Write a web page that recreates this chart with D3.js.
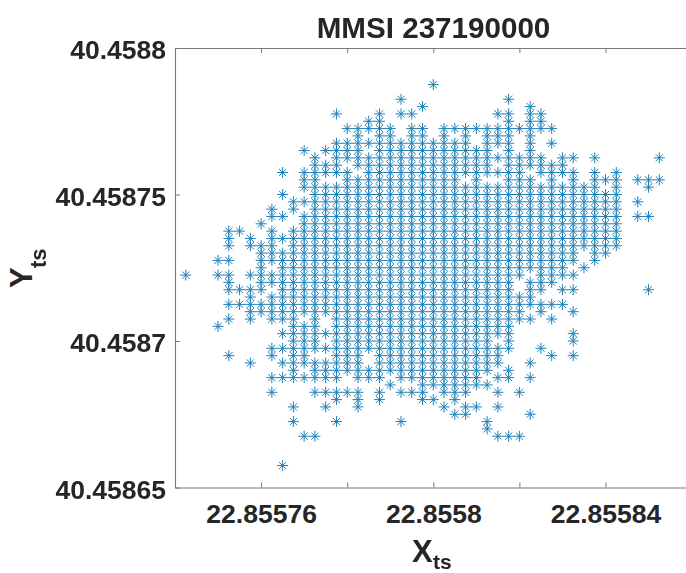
<!DOCTYPE html>
<html>
<head>
<meta charset="utf-8">
<script src="https://cdn.jsdelivr.net/npm/d3@7"></script>
<style>
  body { margin: 0; background: #fff; }
  text { font-family: "Liberation Sans", Arial, sans-serif; font-weight: bold; fill: #262626; }
</style>
</head>
<body>
<div id="chart"></div>
<script>
// Positions are quantised, so the points sit on a grid of longitudes and latitudes
var xGrid = [
  22.8557425, 22.855745, 22.8557475, 22.85575, 22.8557525,
  22.855755, 22.8557575, 22.85576, 22.8557625, 22.855765,
  22.8557675, 22.85577, 22.8557725, 22.855775, 22.8557775,
  22.85578, 22.8557825, 22.855785, 22.8557875, 22.85579,
  22.8557925, 22.855795, 22.8557975, 22.8558, 22.8558025,
  22.855805, 22.8558075, 22.85581, 22.8558125, 22.855815,
  22.8558175, 22.85582, 22.8558225, 22.855825, 22.8558275,
  22.85583, 22.8558325, 22.855835, 22.8558375, 22.85584,
  22.8558425, 22.855845, 22.8558475, 22.85585, 22.8558525
];

var rowY = [
  40.4587875, 40.4587825, 40.45878, 40.4587775, 40.458775,
  40.4587725, 40.45877, 40.4587675, 40.458765, 40.4587625,
  40.45876, 40.4587575, 40.458755, 40.4587525, 40.45875,
  40.4587475, 40.458745, 40.4587425, 40.45874, 40.4587375,
  40.458735, 40.4587325, 40.45873, 40.4587275, 40.458725,
  40.4587225, 40.45872, 40.4587175, 40.458715, 40.4587125,
  40.45871, 40.4587075, 40.458705, 40.4587025, 40.4587,
  40.4586975, 40.458695, 40.4586925, 40.45869, 40.4586875,
  40.458685, 40.4586825, 40.45868, 40.4586775, 40.458675,
  40.4586725, 40.45867, 40.4586675, 40.4586575
];

// One string per latitude in rowY, one character per longitude in xGrid (x = a point)
var rowMask = [
  "..... ..... ..... ..... ...x. ..... ..... ..... .....",
  "..... ..... ..... ..... x.... ..... x.... ..... .....",
  "..... ..... ..... ..... ..x.. ..... ..x.. ..... .....",
  "..... ..... ....x ...x. xx... ....x x.xx. ..... .....",
  "..... ..... ..... ..xx. ..... ..... x.xx. ..... .....",
  "..... ..... ..... xxxxx .xx.x xxxxx xxxxx ..... .....",
  "..... ..... ..... .x.xx .xx.x .x.xx x.x.. ..... .....",
  "..... ..... ....x xxxxx xxxxx xx.xx x.x.x ..... .....",
  "..... ..... .x.xx xx.xx xxxxx xxxx. x.x.. ..... .....",
  "..... ..... ..x.x xxxxx xxxxx xxxxx xxxx. xx.x. ....x",
  "..... ..... ..xxx .xxxx xxxxx xxxx. xxxxx x.... .....",
  "..... ....x .xxxx x.xxx xxxxx xxxxx xx.xx xx.x. x....",
  "..... ..... .xx.. xxxxx xxxxx x.x.. xxx.x .x.xx x.xxx",
  "..... ..... .xxxx xxxxx xxxxx xxxxx xxxxx xxxx. x..x.",
  "..... ....x ..xxx xxxxx xxxxx xxxxx xxxxx xxxxx x....",
  "..... ..... xxxxx xxxxx xxxxx xxxxx xxxxx xxxxx x.x..",
  "..... ...x. x.xxx xxxxx xxxxx xxxxx xxxxx xxxxx x....",
  "..... ...xx .xxxx xxxxx xxxxx xxxxx xxxxx xxxxx x.xx.",
  "..... ..x.. .xxxx xxxxx xxxxx xxxxx xxxxx xxxxx x....",
  "....x x..x. xxxxx xxxxx xxxxx xxxxx xxxxx xxxxx x....",
  "....x .x.xx xxxxx xxxxx xxxxx xxxxx xxxxx xxxxx x....",
  "....x .xxx. xxxxx xxxxx xxxxx xxxxx xxxxx xxxxx x....",
  "..... ..xxx xxxxx xxxxx xxxxx xxxxx xxxxx xx.xx .....",
  "...xx ..xxx xxxxx xxxxx xxxxx xxxxx xxxxx xx.x. .....",
  "..... ..x.x xxxxx xxxxx xxxxx xxxxx xxxxx x.x.. .....",
  "x..xx .xxxx xxxxx xxxxx xxxxx xxxxx xx.xx xx... .....",
  "....x ..xxx xxxxx xxxxx xxxxx xxxxx x.xxx ..... .....",
  "....x xxx.x xxxxx xxxxx xxxxx xxxxx x.xx. xx... ...x.",
  "..... .x.xx xxxxx xxxxx xxxxx xxxxx xxx.. ..... .....",
  "....x xxxxx xxxxx xxxxx xxxxx xxxxx xxxxx x.... .....",
  "..... .xxxx xxxxx xxxxx xxxxx xxxxx xx.x. .x... .....",
  "....x .x.xx x.x.x xxxxx xxxxx xxxxx xxx.x ..... .....",
  "...x. ..... xxx.x xxxxx xxxxx xxxxx x.... ..... .....",
  "..... ....x xxxxx xxxxx xxxxx xxxxx x.... .x... .....",
  "..... ..... xxx.x xxxxx xxxxx xxxx. x.... .x... .....",
  "..... ...xx xxxxx xxxxx xxxxx xxxxx x..x. ..... .....",
  "....x ...x. xx..x xx.xx xxxxx xxxxx ....x .x... .....",
  "..... .x..x xxxxx xx.xx xxxxx xxxxx ..x.. ..... .....",
  "..... ..... x.xxx xxxxx xxxxx xxxx. x.... ..... .....",
  "..... ...xx xxxxx .xxx. xxxxx xxx.x x.x.. ..... .....",
  "..... ..... ..... ....x ..xxx xxxx. ..... ..... .....",
  "..... ...x. ..xxx xx.x. xxx.x xx..x .x... ..... .....",
  "..... ..... ....x .x.x. ..xx. x.... ..... ..... .....",
  "..... ..... x..x. .x... ....x .xx.x ..... ..... .....",
  "..... ..... ..... ..... ..... xx... ..x.. ..... .....",
  "..... ..... x...x ..... x.... ...x. ..... ..... .....",
  "..... ..... ..... ..... ..... ...x. ..... ..... .....",
  "..... ..... .xx.. ..... ..... ....x xx... ..... .....",
  "..... ....x ..... ..... ..... ..... ..... ..... ....."
];

var xTicks = [22.85576, 22.85578, 22.8558, 22.85582, 22.85584];
var xTickLabels = ["22.85576", "", "22.8558", "", "22.85584"];
var yTicks = [40.45865, 40.4587, 40.45875, 40.4588];
var yTickLabels = ["40.45865", "40.4587", "40.45875", "40.4588"];

var svgWidth = 686;
var svgHeight = 573;

var svg = d3.select("#chart")
  .append("svg")
  .attr("width", svgWidth)
  .attr("height", svgHeight);

// The right edge of the axes falls just outside the picture
var xScale = d3.scaleLinear().domain([22.85574, 22.85586]).range([175, 691.6]);
var yScale = d3.scaleLinear().domain([40.45865, 40.4588]).range([487.5, 48]);

// MATLAB style * marker
var star = {
  draw: function(context) {
    var a = 5.5, b = 3.6;
    context.moveTo(-a, 0); context.lineTo(a, 0);
    context.moveTo(0, -a); context.lineTo(0, a);
    context.moveTo(-b, -b); context.lineTo(b, b);
    context.moveTo(-b, b); context.lineTo(b, -b);
  }
};
var starPath = d3.symbol().type(star)();

var points = [];
rowMask.forEach(function(mask, i) {
  mask.replace(/ /g, "").split("").forEach(function(ch, j) {
    if (ch === "x") points.push({ x: xGrid[j], y: rowY[i] });
  });
});

svg.append("g")
  .style("filter", "blur(0.45px)")
  .selectAll("path")
  .data(points)
  .enter()
  .append("path")
  .attr("d", starPath)
  .attr("transform", d => `translate(${xScale(d.x)},${yScale(d.y)})`)
  .attr("fill", "none")
  .attr("stroke", "#1f80b8")
  .attr("stroke-width", 1);

function styleAxis(g) {
  g.select(".domain").attr("stroke", "#777").attr("stroke-width", 1.1);
  g.selectAll(".tick line").attr("stroke", "#777");
  g.selectAll(".tick text").attr("font-size", 26.5).attr("fill", "#262626");
}

var bottomAxis = d3.axisBottom(xScale)
  .tickValues(xTicks)
  .tickSizeOuter(0)
  .tickSizeInner(-5)
  .tickPadding(17)
  .tickFormat((d, i) => xTickLabels[i]);
var topAxis = d3.axisTop(xScale)
  .tickValues(xTicks)
  .tickSizeOuter(0)
  .tickSizeInner(-5)
  .tickFormat("");
var leftAxis = d3.axisLeft(yScale)
  .tickValues(yTicks)
  .tickSizeOuter(0)
  .tickSizeInner(-5)
  .tickPadding(9)
  .tickFormat((d, i) => yTickLabels[i]);
var rightAxis = d3.axisRight(yScale)
  .tickValues(yTicks)
  .tickSizeOuter(0)
  .tickSizeInner(-5)
  .tickFormat("");

svg.append("g").attr("transform", "translate(0,487.5)").call(bottomAxis).call(styleAxis);
svg.append("g").attr("transform", "translate(0,48)").call(topAxis).call(styleAxis);
svg.append("g").attr("transform", "translate(175,0)").call(leftAxis).call(styleAxis)
  .selectAll(".tick text").attr("y", 2.5);
svg.append("g").attr("transform", "translate(691.6,0)").call(rightAxis).call(styleAxis);

svg.selectAll(".tick text").style("font-family", '"Liberation Sans", Arial, sans-serif').style("font-weight", "bold");

// Title
svg.append("text")
  .attr("x", 433.5)
  .attr("y", 38)
  .attr("text-anchor", "middle")
  .attr("font-size", 29.6)
  .attr("fill", "#1a1a1a")
  .text("MMSI 237190000");

// X axis label with subscript
svg.append("text")
  .attr("x", 412)
  .attr("y", 562)
  .attr("font-size", 31)
  .text("X");
svg.append("text")
  .attr("x", 433)
  .attr("y", 568.5)
  .attr("font-size", 21)
  .text("ts");

// Y axis label with subscript
svg.append("text")
  .attr("transform", "translate(32,288) rotate(-90)")
  .attr("font-size", 31)
  .text("Y");
svg.append("text")
  .attr("transform", "translate(46,268) rotate(-90)")
  .attr("font-size", 22)
  .text("ts");
</script>
</body>
</html>
